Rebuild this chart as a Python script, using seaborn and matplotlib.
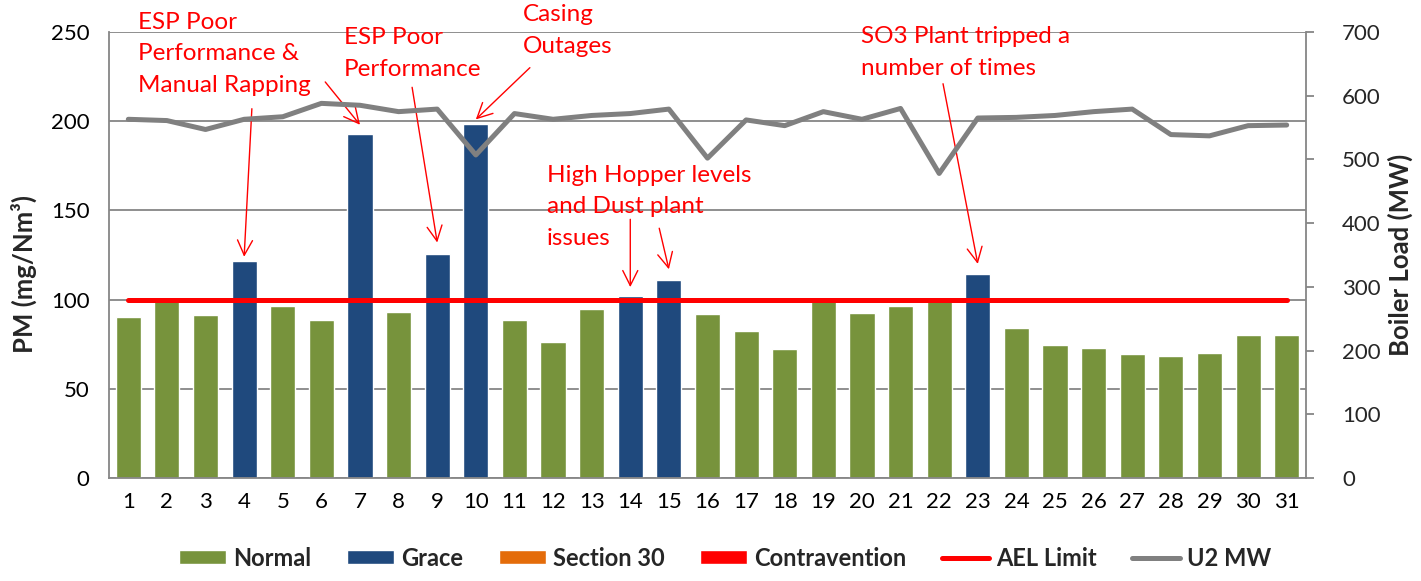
# plot.py
# daily PM emissions vs boiler load, with incident annotations

import numpy as np
import pandas as pd
import seaborn as sns
import matplotlib
import matplotlib.pyplot as plt
from matplotlib.patches import Patch
from matplotlib.lines import Line2D
matplotlib.use('Agg')

# ----------------------------------------------------------------
# data
days = list(range(1, 32))
pm = [90, 100, 91.5, 121.5, 96.5, 88.5, 193, 93, 125.5, 198.5,
      88.5, 76, 95, 102, 111, 92, 82.5, 72.5, 100, 92.5,
      96.5, 100, 114.5, 84, 74.5, 73, 69.5, 68.5, 70, 80, 80]
grace_days = [4, 7, 9, 10, 14, 15, 23]
u2_mw = [563, 561, 547, 563, 567, 588, 585, 575, 579, 507,
         572, 563, 569, 572, 579, 502, 562, 553, 575, 563,
         580, 478, 565, 566, 569, 575, 579, 539, 537, 553, 554]
ael_limit = 100

status_names = ["Normal", "Grace", "Section 30", "Contravention"]
status_colors = ["#77933C", "#1F497D", "#E46C0A", "#FF0000"]

# (text, left x, baseline of last line) in reference pixels
notes = [
    ("ESP Poor\nPerformance &\nManual Rapping", 138, 92),
    ("ESP Poor\nPerformance", 344, 76),
    ("Casing\nOutages", 523, 53),
    ("SO3 Plant tripped a\nnumber of times", 861, 75),
    ("High Hopper levels\nand Dust plant\nissues", 547, 245),
]
# arrows: (start day, start PM) -> (tip day, tip PM)
arrows = [
    ((4.2, 207), (4, 124)),
    ((6.1, 222), (7, 198)),
    ((8.35, 219), (9, 132)),
    ((11.4, 230), (10, 201)),
    ((22.1, 221), (23, 120)),
    ((14.0, 145), (14, 107)),
    ((14.75, 140), (15, 117)),
]

W, H = 1421, 581
GRID = "#868686"

df = pd.DataFrame({"day": days, "pm": pm})
df["status"] = ["Grace" if d in grace_days else "Normal" for d in days]

sns.set_theme(style="white")
plt.rcParams['font.family'] = ['Lato', 'DejaVu Sans']

fig = plt.figure(figsize=(W / 100, H / 100), dpi=100)
ax = fig.add_axes([109 / W, 1 - 478 / H, (1306 - 109) / W, (478 - 32) / H])

sns.barplot(data=df, x="day", y="pm", hue="status", order=days,
            hue_order=["Normal", "Grace"], palette=status_colors[:2],
            dodge=False, width=0.65, ax=ax, legend=False, saturation=1)

x_idx = np.arange(len(days))
ax.plot(x_idx, np.full(len(days), ael_limit), color="#FF0000", lw=3.6,
        solid_capstyle="round", zorder=5)

ax.set_ylim(0, 250)
ax.set_xlim(-0.5, len(days) - 0.5)
ax.set_yticks(range(0, 251, 50))
ax.yaxis.grid(True, color=GRID, lw=1.3)
ax.set_axisbelow(True)
for side in ["top", "right"]:
    ax.spines[side].set_visible(False)
for side in ["left", "bottom"]:
    ax.spines[side].set_color(GRID)
    ax.spines[side].set_linewidth(1.3)
ax.tick_params(axis="both", length=0, labelsize=16, colors="black")
ax.tick_params(axis="y", pad=14)
ax.tick_params(axis="x", pad=10)
ax.set_xlabel("")
ax.set_ylabel("PM (mg/Nm³)", fontsize=18.5, fontweight="bold")
ax.yaxis.set_label_coords(-0.060, 0.457)

ax2 = ax.twinx()
sns.lineplot(x=x_idx, y=u2_mw, color="#808080", lw=3.6, ax=ax2)
ax2.set_ylim(0, 700)
ax2.set_yticks(range(0, 701, 100))
ax2.grid(False)
for side in ["top", "left", "bottom"]:
    ax2.spines[side].set_visible(False)
ax2.spines["right"].set_color(GRID)
ax2.spines["right"].set_linewidth(1.3)
ax2.tick_params(axis="y", direction="out", length=6, width=1.3, color=GRID,
                labelsize=16, pad=20)
ax2.set_ylabel("Boiler Load (MW)", fontsize=18.5, fontweight="bold")
ax2.yaxis.set_label_coords(1.0685, 0.5)

# annotations
for text, px, py in notes:
    fig.text(px / W, 1 - py / H, text, color="#FF0000", fontsize=17.5,
             ha="left", va="baseline", linespacing=1.62)
for (sx, sy), (tx, ty) in arrows:
    ax.annotate("", xy=(tx - 1, ty), xytext=(sx - 1, sy),
                xycoords="data", textcoords="data", annotation_clip=False,
                arrowprops=dict(arrowstyle="->,head_length=0.9,head_width=0.45",
                                color="#FF0000", lw=1, shrinkA=0, shrinkB=0),
                zorder=10)

handles = [Patch(facecolor=c, label=n) for n, c in zip(status_names, status_colors)]
handles += [Line2D([], [], color="#FF0000", lw=3.6, label="AEL Limit"),
            Line2D([], [], color="#808080", lw=3.6, label="U2 MW")]
fig.legend(handles=handles, loc="center", bbox_to_anchor=(725 / W, 1 - 558 / H),
           ncol=6, frameon=False, prop={"weight": "bold", "size": 17},
           handlelength=2.0, handleheight=0.57, handletextpad=0.3,
           columnspacing=1.5)

fig.savefig("out.png", dpi=100)
plt.close(fig)
